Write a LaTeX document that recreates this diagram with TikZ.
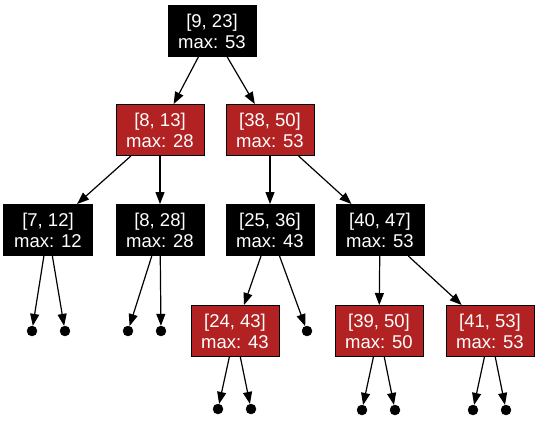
\documentclass[tikz,border=0pt]{standalone}
\usepackage{fontspec}
\setmainfont{Liberation Sans}
\usetikzlibrary{arrows.meta}
\definecolor{boxred}{HTML}{B22222}
\begin{document}
\begin{tikzpicture}[x=1bp,y=-1bp,
  iv/.style={draw=black,line width=1bp,rectangle,minimum width=88bp,minimum height=51bp,
    inner sep=0pt,text=white,align=center,font=\fontsize{18.5bp}{21bp}\selectfont},
  blk/.style={iv,fill=black},
  red/.style={iv,fill=boxred},
  leaf/.style={circle,fill=black,draw=black,minimum size=10bp,inner sep=0pt},
  edge/.style={line width=1.2bp,-{Triangle[length=12bp,width=9bp]}}]
\useasboundingbox (0,0) rectangle (539,420);
\node[blk] (n1) at (212,31) {[9, 23]\\max: 53};
\node[red] (n2) at (160,130) {[8, 13]\\max: 28};
\node[red] (n3) at (270,130) {[38, 50]\\max: 53};
\node[blk] (n4) at (48,230) {[7, 12]\\max: 12};
\node[blk] (n5) at (160,230) {[8, 28]\\max: 28};
\node[blk] (n6) at (270,230) {[25, 36]\\max: 43};
\node[blk] (n7) at (380,230) {[40, 47]\\max: 53};
\node[red] (n8) at (235,331) {[24, 43]\\max: 43};
\node[red] (n9) at (379,331) {[39, 50]\\max: 50};
\node[red] (n10) at (490,331) {[41, 53]\\max: 53};
\node[leaf] (l1) at (32,331) {};
\node[leaf] (l2) at (65,331) {};
\node[leaf] (l3) at (128,331) {};
\node[leaf] (l4) at (161,331) {};
\node[leaf] (l5) at (307,331) {};
\node[leaf] (l6) at (218,409) {};
\node[leaf] (l7) at (251,409) {};
\node[leaf] (l8) at (362,410) {};
\node[leaf] (l9) at (395,410) {};
\node[leaf] (l10) at (473,410) {};
\node[leaf] (l11) at (506,410) {};
\draw[edge] (n1) -- (n2);
\draw[edge] (n1) -- (n3);
\draw[edge] (n2) -- (n4);
\draw[edge] (n2) -- (n5);
\draw[edge] (n3) -- (n6);
\draw[edge] (n3) -- (n7);
\draw[edge] (n4) -- (l1);
\draw[edge] (n4) -- (l2);
\draw[edge] (n5) -- (l3);
\draw[edge] (n5) -- (l4);
\draw[edge] (n6) -- (n8);
\draw[edge] (n6) -- (l5);
\draw[edge] (n8) -- (l6);
\draw[edge] (n8) -- (l7);
\draw[edge] (n7) -- (n9);
\draw[edge] (n7) -- (n10);
\draw[edge] (n9) -- (l8);
\draw[edge] (n9) -- (l9);
\draw[edge] (n10) -- (l10);
\draw[edge] (n10) -- (l11);
\end{tikzpicture}
\end{document}
